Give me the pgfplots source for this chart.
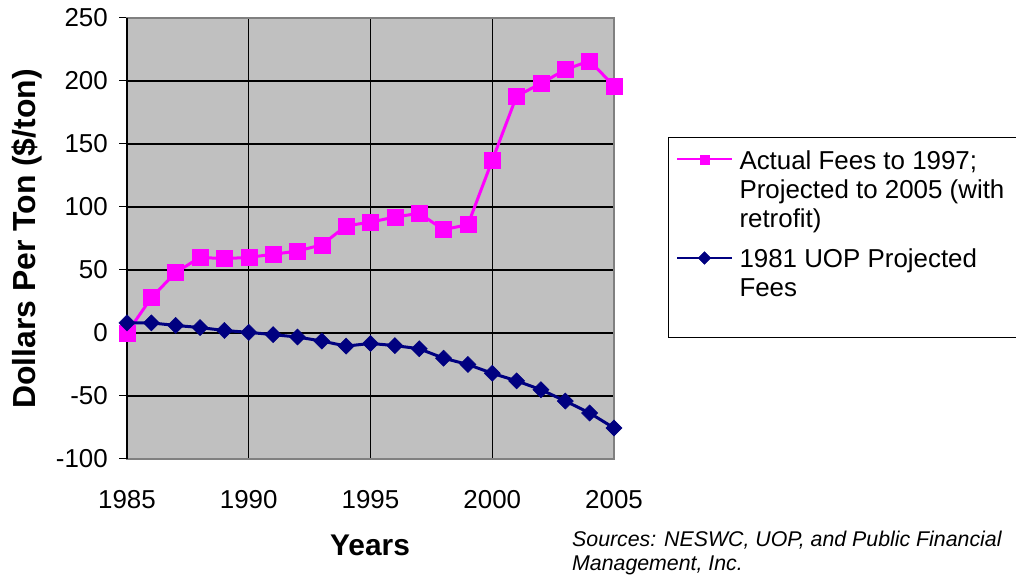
\documentclass[border=0pt]{standalone}
\usepackage{pgfplots}
\pgfplotsset{compat=1.18}
\usepackage{fontspec}
\setmainfont{Liberation Sans}
\definecolor{pinkc}{HTML}{FF00FF}
\definecolor{navyc}{HTML}{000080}
\definecolor{bgc}{HTML}{C0C0C0}
\definecolor{framec}{HTML}{808080}
\begin{document}
\begin{tikzpicture}[x=1bp,y=1bp]
\path[use as bounding box] (0,0) rectangle (1016,581);
\draw[black, line width=1bp] (668,443) rectangle (1030,243);
\begin{axis}[
  at={(127bp,122bp)}, anchor=south west,
  width=487bp, height=441bp, scale only axis,
  xmin=1985, xmax=2005, ymin=-100, ymax=250,
  xtick={1985,1990,1995,2000,2005},
  ytick={-100,-50,0,50,100,150,200,250},
  ytick pos=left,
  axis background/.style={fill=bgc},
  grid=major,
  major grid style={black, line width=1.1bp},
  axis line style={framec, line width=2.5bp},
  tick align=outside,
  major tick length=8bp,
  xtick style={draw=none},
  ytick style={black, line width=1bp},
  tick label style={font=\fontsize{26}{26}\selectfont},
  /pgf/number format/assume math mode=true,
  /pgf/number format/1000 sep={},
  yticklabel style={anchor=east, inner sep=0pt, xshift=-11bp},
  xticklabel style={anchor=north, inner sep=0pt, yshift=-23bp},
  clip=false,
  legend cell align=left,
  legend style={at={(1.1273,0.7018)}, anchor=north west, draw=none, fill=none,
    inner sep=0pt, outer sep=0pt, row sep=78.5bp, column sep=7bp,
    font=\fontsize{26}{29}\selectfont, nodes={inner sep=0pt, text depth={}}},
  legend image code/.code={\draw[mark repeat=2,mark phase=2,#1] plot coordinates {(0bp,0bp)(27.5bp,0bp)(54.5bp,0bp)};},
]
\draw[black, line width=1.5bp] (rel axis cs:0,0) -- (rel axis cs:0,1);
\addplot[pinkc, line width=3bp, mark=square*, mark size=8bp, mark options={fill=pinkc, draw=pinkc, line width=0.5bp},
  legend image post style={mark size=4.5bp, line width=2bp}]
coordinates {
(1985,0)(1986,28)(1987,48)(1988,60)(1989,59)(1990,60)(1991,62.5)(1992,65)(1993,70)(1994,85)
(1995,88)(1996,92)(1997,95)(1998,82)(1999,86)(2000,137)(2001,188)(2002,198)(2003,209)(2004,216)(2005,196)
};
\addlegendentry{\raisebox{0pt}[20bp][0pt]{\parbox[t]{285bp}{\raggedright Actual Fees to 1997;\\Projected to 2005 (with\\retrofit)}}}
\addplot[navyc, line width=3bp, mark=square*, mark size=5.7bp, mark options={rotate=45, fill=navyc, draw=navyc, line width=0.5bp},
  legend image post style={mark size=4.5bp, line width=2bp}]
coordinates {
(1985,8)(1986,8)(1987,6)(1988,4.3)(1989,2)(1990,0.5)(1991,-1.3)(1992,-3.2)(1993,-6.4)(1994,-10.4)
(1995,-8.3)(1996,-10)(1997,-12.5)(1998,-20)(1999,-25)(2000,-32)(2001,-38)(2002,-45)(2003,-54)(2004,-63.5)(2005,-75.4)
};
\addlegendentry{\raisebox{0pt}[20bp][0pt]{\parbox[t]{285bp}{\raggedright 1981 UOP Projected\\Fees}}}
\end{axis}
\node[rotate=90, anchor=base, inner sep=0pt, font=\bfseries\fontsize{32}{32}\selectfont] at (35,342) {Dollars Per Ton (\$/ton)};
\node[anchor=base, inner sep=0pt, font=\bfseries\fontsize{30}{30}\selectfont] at (370,25) {Years};
\node[anchor=base west, inner sep=0pt, font=\itshape\fontsize{21.4}{24}\selectfont] at (572,34.3) {Sources: NESWC, UOP, and Public Financial};
\node[anchor=base west, inner sep=0pt, font=\itshape\fontsize{21.4}{24}\selectfont] at (572,10.3) {Management, Inc.};
\end{tikzpicture}
\end{document}
